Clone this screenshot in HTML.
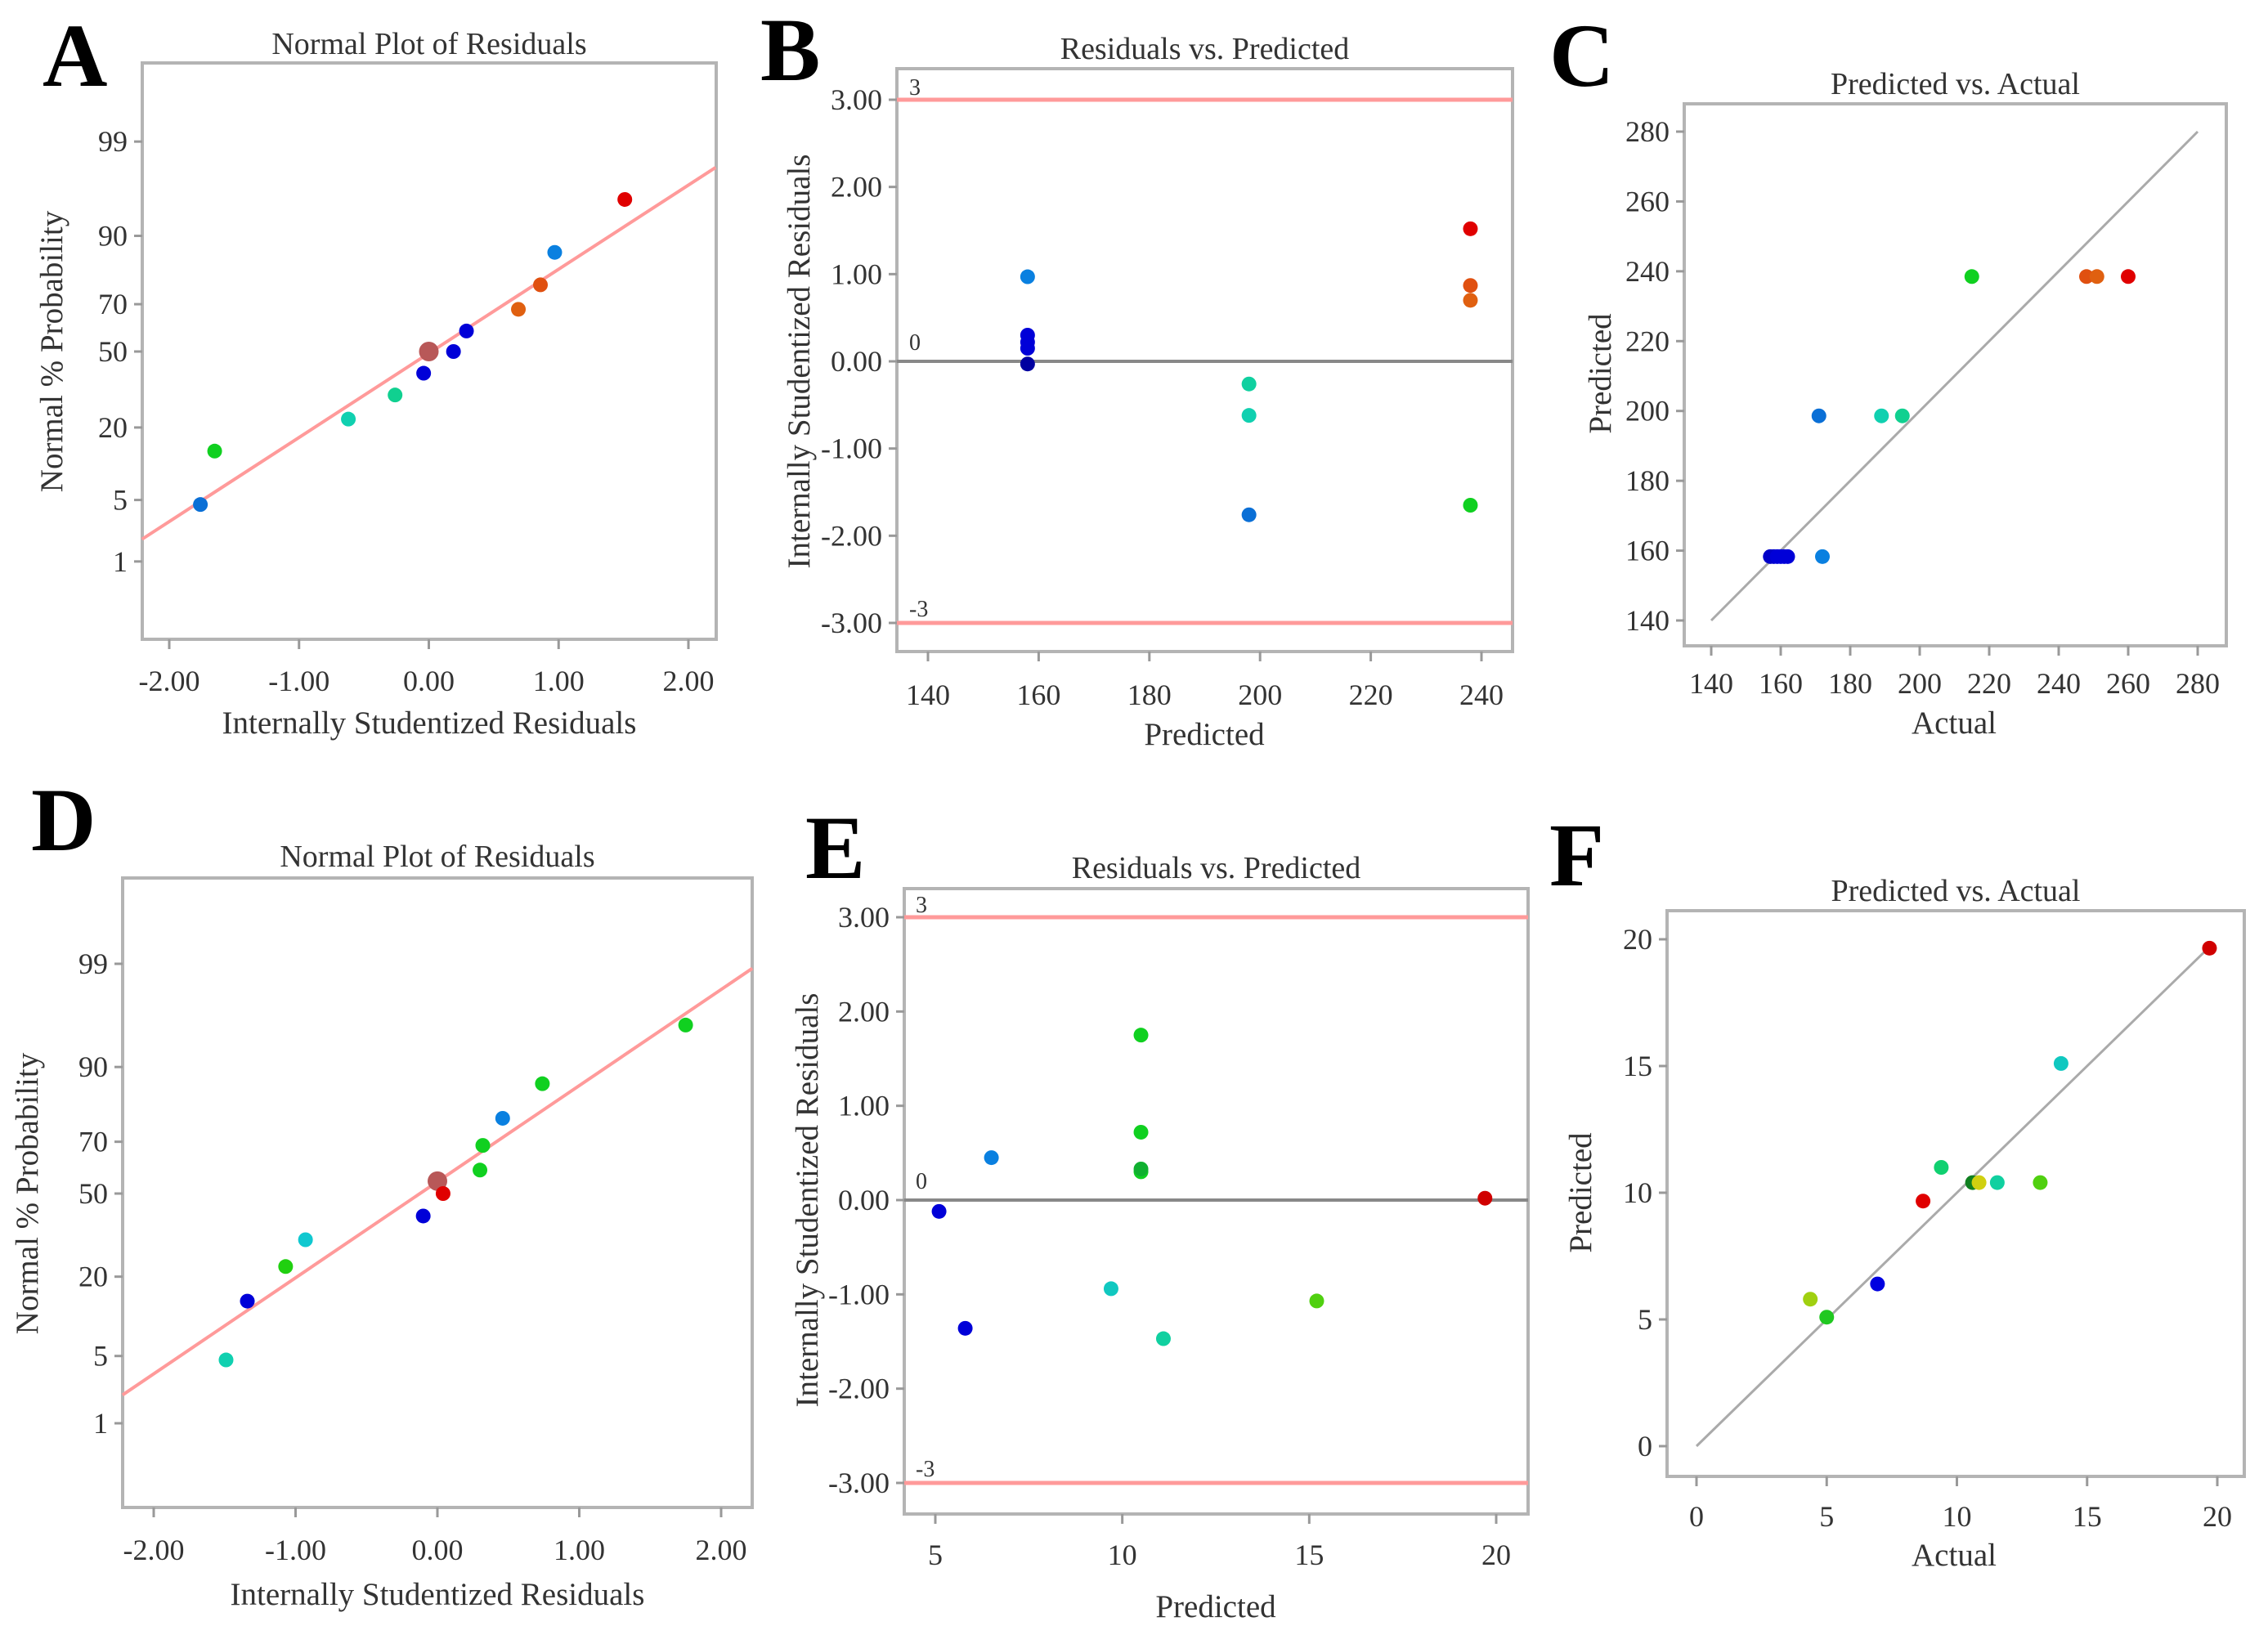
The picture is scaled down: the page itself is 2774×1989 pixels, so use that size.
<!DOCTYPE html>
<html><head><meta charset="utf-8"><style>
html,body{margin:0;padding:0;background:#fff;overflow:hidden;}
svg{display:block;}
text{font-family:"Liberation Serif",serif;fill:#333;}
</style></head><body>
<svg id="fig" width="2774" height="1989" viewBox="0 0 2774 1989" xmlns="http://www.w3.org/2000/svg"></svg>
<script>
// ---------- Panel A data ----------
const aResid = [-1.76,-1.65,-0.62,-0.26,-0.04,0.00,0.19,0.29,0.69,0.86,0.97,1.51];
const aProb  = [4.5,13.5,22.7,31.5,40.5,50,50,59,68,77,86.4,95.4];
const aColor = ["#0a6fd6","#10d020","#10d0b0","#10d090","#0000d8","#b85858","#0000d8","#0000d8","#e06010","#e05010","#0a80e0","#e00000"];
const aLineX = [-2.21,2.21];
const aLineZ = [-2.08,2.04];
const aXTicks = [-2,-1,0,1,2];
const aXLabels = ["-2.00","-1.00","0.00","1.00","2.00"];
const probTicks = [1,5,20,50,70,90,99];
// ---------- Panel B data ----------
const bPred  = [158,158,158,158,158,198,198,198,238,238,238,238];
const bResid = [0.97,0.30,0.22,0.15,-0.03,-0.26,-0.62,-1.76,1.52,0.87,0.70,-1.65];
const bColor = ["#0a80e0","#0000d8","#0000d8","#0000d8","#0000a0","#10d0a0","#10d0b0","#0a6fd6","#e00000","#e05010","#e06010","#10d020"];
const bXTicks = [140,160,180,200,220,240];
const resTicks = [3,2,1,0,-1,-2,-3];
const resLabels = ["3.00","2.00","1.00","0.00","-1.00","-2.00","-3.00"];
// ---------- Panel C data ----------
const cActual = [157,158,159,160,161,162,172,171,189,195,215,248,251,260];
const cPred   = [158.3,158.3,158.3,158.3,158.3,158.3,158.3,198.6,198.6,198.6,238.5,238.5,238.5,238.5];
const cColor  = ["#0000c8","#0000c8","#0000d8","#0000d8","#0000d8","#0000d8","#0a80e0","#0a6fd6","#10d0b0","#10d090","#10d020","#e05010","#e06010","#e00000"];
const cTicks = [140,160,180,200,220,240,260,280];
// ---------- Panel D data ----------
const dResid = [-1.49,-1.34,-1.07,-0.93,-0.10,0.00,0.04,0.30,0.32,0.46,0.74,1.75];
const dProb  = [4.6,13.8,23,32,41,55,50,59.4,68.7,77.7,86.7,95.6];
const dColor = ["#10d0b0","#0000d8","#20d010","#10c8d0","#0000d8","#b85858","#e00000","#10d020","#10d020","#0a80e0","#10d020","#10d020"];
const dLineX = [-2.22,2.22];
const dLineZ = [-2.04,2.28];
// ---------- Panel E data ----------
const ePred  = [5.1,5.8,6.5,9.7,10.5,10.5,10.5,10.5,11.1,15.2,19.7];
const eResid = [-0.12,-1.36,0.45,-0.94,1.75,0.72,0.30,0.33,-1.47,-1.07,0.02];
const eColor = ["#0000d8","#0000d8","#0a80e0","#10c8c0","#10d020","#10d020","#10d020","#10b030","#10d0a0","#50d010","#d00000"];
const eXTicks = [5,10,15,20];
// ---------- Panel F data ----------
const fActual = [4.37,5.0,6.95,8.7,9.4,10.6,10.85,11.55,13.2,14.0,19.7];
const fPred   = [5.8,5.09,6.4,9.67,11.0,10.4,10.4,10.4,10.4,15.1,19.65];
const fColor  = ["#a0d010","#20c820","#0000e0","#e00000","#10d070","#108020","#d0d010","#10d0a0","#50d010","#10c8c0","#d00000"];
const fTicks = [0,5,10,15,20];

const NS="http://www.w3.org/2000/svg";
const svg=document.getElementById('fig');
function el(tag,attrs,parent){const e=document.createElementNS(NS,tag);for(const k in attrs)e.setAttribute(k,attrs[k]);(parent||svg).appendChild(e);return e;}
function txt(s,x,y,size,anchor,parent,extra){const t=el('text',Object.assign({x:x,y:y,'font-size':size,'text-anchor':anchor||'middle'},extra||{}),parent);t.textContent=s;return t;}
function lin(d0,d1,p0,p1){return v=>p0+(v-d0)*(p1-p0)/(d1-d0);}
function probit(p){const a=[-39.6968302866538,220.946098424521,-275.928510446969,138.357751867269,-30.6647980661472,2.50662827745924],b=[-54.4760987982241,161.585836858041,-155.698979859887,66.8013118877197,-13.2806815528857],c=[-0.00778489400243029,-0.322396458041136,-2.40075827716184,-2.54973253934373,4.37466414146497,2.93816398269878],d=[0.00778469570904146,0.32246712907004,2.445134137143,3.75440866190742];const pl=0.02425;let q,r;if(p<pl){q=Math.sqrt(-2*Math.log(p));return (((((c[0]*q+c[1])*q+c[2])*q+c[3])*q+c[4])*q+c[5])/((((d[0]*q+d[1])*q+d[2])*q+d[3])*q+1);}if(p<=1-pl){q=p-0.5;r=q*q;return (((((a[0]*r+a[1])*r+a[2])*r+a[3])*r+a[4])*r+a[5])*q/(((((b[0]*r+b[1])*r+b[2])*r+b[3])*r+b[4])*r+1);}q=Math.sqrt(-2*Math.log(1-p));return -(((((c[0]*q+c[1])*q+c[2])*q+c[3])*q+c[4])*q+c[5])/((((d[0]*q+d[1])*q+d[2])*q+d[3])*q+1);}

function panel(name,letter,lx,ly,box,title,titleY){
  const g=el('g',{});
  
  
  const L=txt(letter,lx,ly,110,'start',g,{'font-weight':'bold',style:'fill:#000'});
  
  
  const r=el('rect',{x:box[0],y:box[1],width:box[2]-box[0],height:box[3]-box[1],fill:'none',stroke:'#b4b4b4','stroke-width':4},g);
  
  
  const t=txt(title,(box[0]+box[2])/2,titleY,38,'middle',g);
  
  
  return g;
}
function xTicks(g,ticks,labels,sx,box,labY){
  ticks.forEach((v,i)=>{const x=sx(v);
    const l=el('line',{x1:x,x2:x,y1:box[3],y2:box[3]+12,stroke:'#999','stroke-width':3},g);
    
    
    const t=txt(labels[i],x,labY,36,'middle',g);
    
    });
}
function yTicks(g,ticks,labels,sy,box){
  ticks.forEach((v,i)=>{const y=sy(v);
    const l=el('line',{x1:box[0]-10,x2:box[0],y1:y,y2:y,stroke:'#999','stroke-width':3},g);
    
    
    const t=txt(labels[i],box[0]-18,y+12,36,'end',g);
    
    });
}
function axisTitles(g,xt,xx,xy,yt,yx,yy){
  const a=txt(xt,xx,xy,39,'middle',g);
  
  
  const b=txt(yt,yx,yy,39,'middle',g,{transform:'rotate(-90 '+yx+' '+yy+')'});
  
  
}
function dots(g,xs,ys,cols,sx,sy,bigColor){
  xs.forEach((v,i)=>{const c=el('circle',{cx:sx(v),cy:sy(ys[i]),r:cols[i]===bigColor?12:9,fill:cols[i]},g);
    
    });
}
function hline(g,y,x1,x2,col,w,name){const l=el('line',{x1:x1,x2:x2,y1:y,y2:y,stroke:col,'stroke-width':w},g);
  
  }

// ===== Panel A =====
(function(){
  const box=[174,77,876,782];
  const g=panel('panel-a','A',52,105,box,'Normal Plot of Residuals',66);
  const sx=lin(-2,2,207,842);
  const sz=lin(0,1,430,319.6);
  const sy=p=>sz(probit(p/100));
  xTicks(g,aXTicks,aXLabels,sx,box,845);
  yTicks(g,probTicks,probTicks.map(String),sy,box);
  axisTitles(g,'Internally Studentized Residuals',525,897,'Normal % Probability',76,430);
  const ln=el('line',{x1:sx(aLineX[0]),y1:sz(aLineZ[0]),x2:sx(aLineX[1]),y2:sz(aLineZ[1]),stroke:'#ff9a9a','stroke-width':4},g);
  
  
  dots(g,aResid,aProb,aColor,sx,sy,'#b85858');
})();
// ===== Panel B =====
(function(){
  const box=[1097,84,1850,797];
  const g=panel('panel-b','B',930,98,box,'Residuals vs. Predicted',72);
  const sx=lin(140,240,1135,1812);
  const sy=lin(0,3,442,122);
  xTicks(g,bXTicks,bXTicks.map(String),sx,box,862);
  yTicks(g,resTicks,resLabels,sy,box);
  axisTitles(g,'Predicted',1473,911,'Internally Studentized Residuals',990,442);
  hline(g,sy(3),box[0],box[2],'#ff9a9a',5,'upper-limit-line');
  hline(g,sy(-3),box[0],box[2],'#ff9a9a',5,'lower-limit-line');
  hline(g,sy(0),box[0],box[2],'#888',4,'zero-line');
  txt('3',1112,sy(3)-6,28,'start',g);
  txt('0',1112,sy(0)-14,28,'start',g);
  txt('-3',1112,sy(-3)-8,28,'start',g);
  dots(g,bPred,bResid,bColor,sx,sy);
})();
// ===== Panel C =====
(function(){
  const box=[2060,127,2723,790];
  const g=panel('panel-c','C',1895,105,box,'Predicted vs. Actual',115);
  const sx=lin(140,280,2093,2688);
  const sy=lin(140,280,759,161);
  xTicks(g,cTicks,cTicks.map(String),sx,box,848);
  yTicks(g,cTicks,cTicks.map(String),sy,box);
  axisTitles(g,'Actual',2390,897,'Predicted',1970,457);
  const ln=el('line',{x1:sx(140),y1:sy(140),x2:sx(280),y2:sy(280),stroke:'#aaa','stroke-width':3},g);
  
  
  dots(g,cActual,cPred,cColor,sx,sy);
})();
// ===== Panel D =====
(function(){
  const box=[150,1074,920,1844];
  const g=panel('panel-d','D',38,1040,box,'Normal Plot of Residuals',1060);
  const sx=lin(-2,2,188,882);
  const sz=lin(0,1,1460,1339.2);
  const sy=p=>sz(probit(p/100));
  xTicks(g,aXTicks,aXLabels,sx,box,1908);
  yTicks(g,probTicks,probTicks.map(String),sy,box);
  axisTitles(g,'Internally Studentized Residuals',535,1963,'Normal % Probability',46,1460);
  const ln=el('line',{x1:sx(dLineX[0]),y1:sz(dLineZ[0]),x2:sx(dLineX[1]),y2:sz(dLineZ[1]),stroke:'#ff9a9a','stroke-width':4},g);
  
  
  dots(g,dResid,dProb,dColor,sx,sy,'#b85858');
})();
// ===== Panel E =====
(function(){
  const box=[1106,1087,1869,1852];
  const g=panel('panel-e','E',985,1074,box,'Residuals vs. Predicted',1074);
  const sx=lin(5,20,1144,1830);
  const sy=lin(0,3,1468,1122);
  xTicks(g,eXTicks,eXTicks.map(String),sx,box,1914);
  yTicks(g,resTicks,resLabels,sy,box);
  axisTitles(g,'Predicted',1487,1978,'Internally Studentized Residuals',1000,1468);
  hline(g,sy(3),box[0],box[2],'#ff9a9a',5,'upper-limit-line');
  hline(g,sy(-3),box[0],box[2],'#ff9a9a',5,'lower-limit-line');
  hline(g,sy(0),box[0],box[2],'#888',4,'zero-line');
  txt('3',1120,sy(3)-6,28,'start',g);
  txt('0',1120,sy(0)-14,28,'start',g);
  txt('-3',1120,sy(-3)-8,28,'start',g);
  dots(g,ePred,eResid,eColor,sx,sy);
})();
// ===== Panel F =====
(function(){
  const box=[2039,1114,2745,1806];
  const g=panel('panel-f','F',1895,1083,box,'Predicted vs. Actual',1102);
  const sx=lin(0,20,2075,2712);
  const sy=lin(0,20,1769,1149);
  xTicks(g,fTicks,fTicks.map(String),sx,box,1867);
  yTicks(g,fTicks,fTicks.map(String),sy,box);
  axisTitles(g,'Actual',2390,1915,'Predicted',1946,1459);
  const ln=el('line',{x1:sx(0),y1:sy(0),x2:sx(19.6),y2:sy(19.6),stroke:'#aaa','stroke-width':3},g);
  
  
  dots(g,fActual,fPred,fColor,sx,sy);
})();
</script>
</body></html>
